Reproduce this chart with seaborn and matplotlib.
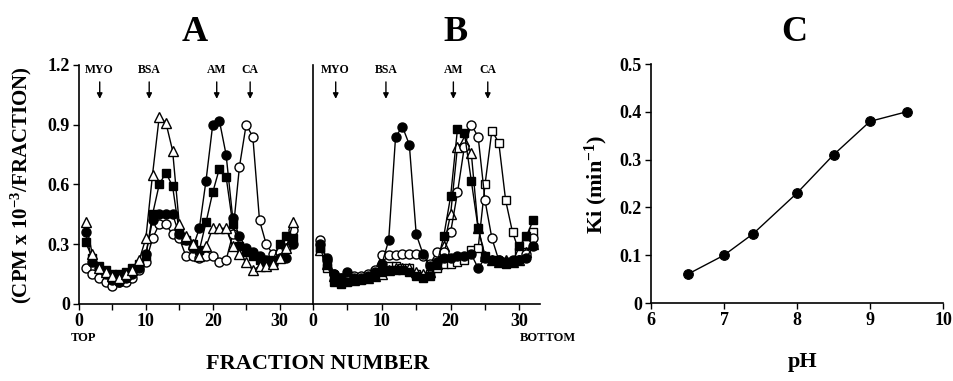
import numpy as np
import pandas as pd
import matplotlib
matplotlib.use("Agg")
import matplotlib.pyplot as plt
from matplotlib.ticker import FixedLocator, FixedFormatter
import seaborn as sns
import warnings

warnings.filterwarnings("ignore")

# ---- data ----
fractions = list(range(1, 33))

# panel A
a_open_tri = [0.41, 0.25, 0.18, 0.16, 0.14, 0.13, 0.15, 0.17, 0.22, 0.33, 0.65, 0.94,
              0.91, 0.77, 0.40, 0.34, 0.30, 0.24, 0.29, 0.38, 0.38, 0.38, 0.29, 0.25,
              0.21, 0.17, 0.19, 0.19, 0.20, 0.23, 0.28, 0.41]
a_filled_sq = [0.31, 0.23, 0.19, 0.17, 0.15, 0.15, 0.16, 0.18, 0.20, 0.24, 0.45, 0.60,
               0.66, 0.59, 0.36, 0.32, 0.30, 0.27, 0.41, 0.56, 0.68, 0.64, 0.40, 0.29,
               0.26, 0.24, 0.22, 0.20, 0.22, 0.30, 0.34, 0.33]
a_filled_circ = [0.36, 0.21, 0.18, 0.15, 0.12, 0.11, 0.13, 0.15, 0.18, 0.25, 0.42, 0.45,
                 0.45, 0.45, 0.35, 0.32, 0.28, 0.38, 0.62, 0.90, 0.92, 0.75, 0.43, 0.34,
                 0.28, 0.26, 0.24, 0.22, 0.20, 0.23, 0.23, 0.30]
a_open_circ = [0.18, 0.15, 0.13, 0.11, 0.09, 0.11, 0.11, 0.13, 0.17, 0.21, 0.33, 0.40,
               0.40, 0.35, 0.33, 0.24, 0.24, 0.23, 0.24, 0.24, 0.21, 0.22, 0.35, 0.69,
               0.90, 0.84, 0.42, 0.30, 0.25, 0.26, 0.28, 0.37]

# panel B
b_filled_circ = [0.30, 0.23, 0.15, 0.13, 0.16, 0.13, 0.13, 0.14, 0.16, 0.20, 0.32, 0.84,
                 0.89, 0.80, 0.35, 0.25, 0.19, 0.21, 0.23, 0.23, 0.24, 0.24, 0.25, 0.18,
                 0.23, 0.22, 0.22, 0.21, 0.22, 0.22, 0.23, 0.29]
b_filled_sq = [0.28, 0.20, 0.11, 0.10, 0.11, 0.12, 0.12, 0.13, 0.14, 0.16, 0.17, 0.17,
               0.17, 0.16, 0.14, 0.13, 0.14, 0.20, 0.34, 0.54, 0.88, 0.86, 0.62, 0.38,
               0.24, 0.22, 0.21, 0.20, 0.21, 0.29, 0.34, 0.42]
b_open_tri = [0.27, 0.20, 0.14, 0.12, 0.12, 0.12, 0.13, 0.13, 0.14, 0.15, 0.17, 0.18,
              0.18, 0.18, 0.16, 0.15, 0.16, 0.20, 0.29, 0.45, 0.79, 0.82, 0.76, 0.38,
              0.24, 0.22, 0.21, 0.22, 0.21, 0.22, 0.26, 0.30]
b_open_circ = [0.32, 0.22, 0.15, 0.13, 0.13, 0.14, 0.14, 0.15, 0.17, 0.245, 0.245, 0.245,
               0.25, 0.25, 0.25, 0.24, 0.20, 0.26, 0.26, 0.36, 0.56, 0.79, 0.90, 0.84,
               0.52, 0.33, 0.22, 0.21, 0.21, 0.22, 0.25, 0.33]
b_open_sq = [0.28, 0.18, 0.14, 0.12, 0.12, 0.13, 0.13, 0.14, 0.16, 0.18, 0.19, 0.19,
             0.18, 0.18, 0.15, 0.14, 0.15, 0.18, 0.20, 0.20, 0.21, 0.22, 0.27, 0.28,
             0.60, 0.87, 0.81, 0.52, 0.36, 0.26, 0.30, 0.36]

# marker proteins (fraction positions)
marker_names = ["MYO", "BSA", "AM", "CA"]
marker_pos_a = [3.1, 10.5, 20.6, 25.6]
marker_pos_b = [3.3, 10.6, 20.4, 25.4]

# panel C
ph = [6.5, 7.0, 7.4, 8.0, 8.5, 9.0, 9.5]
ki = [0.06, 0.10, 0.145, 0.23, 0.31, 0.38, 0.40]

# ---- style ----
sns.set_theme(style="ticks")
plt.rcParams["font.family"] = ["Liberation Serif", "DejaVu Serif"]
plt.rcParams["font.weight"] = "bold"
plt.rcParams["mathtext.fontset"] = "custom"
plt.rcParams["mathtext.rm"] = "Liberation Serif:bold"
plt.rcParams["mathtext.default"] = "rm"
for k in ["text.color", "axes.labelcolor", "xtick.color", "ytick.color", "axes.edgecolor"]:
    plt.rcParams[k] = "black"
plt.rcParams["axes.linewidth"] = 1.2
plt.rcParams["xtick.major.width"] = 1.0
plt.rcParams["ytick.major.width"] = 1.0
plt.rcParams["xtick.minor.width"] = 1.0
plt.rcParams["xtick.major.size"] = 4.5
plt.rcParams["xtick.minor.size"] = 4.5
plt.rcParams["ytick.major.size"] = 4.5
plt.rcParams["xtick.direction"] = "out"
plt.rcParams["ytick.direction"] = "out"

fig = plt.figure(figsize=(9.54, 3.81), dpi=100)
axA = fig.add_axes([0.0828, 0.2021, 0.2453, 0.6273])
axB = fig.add_axes([0.3281, 0.2021, 0.2380, 0.6273])
axC = fig.add_axes([0.6824, 0.2047, 0.3061, 0.6273])

STYLES = {
    "open_tri": dict(marker="^", mfc="white", ms=7.5),
    "filled_sq": dict(marker="s", mfc="black", ms=6),
    "filled_circ": dict(marker="o", mfc="black", ms=6.5),
    "open_circ": dict(marker="o", mfc="white", ms=6.5),
    "open_sq": dict(marker="s", mfc="white", ms=6.3),
}


def draw(ax, y, key, z):
    sns.lineplot(x=fractions, y=y, ax=ax, color="black", lw=1.0, mec="black",
                 mew=1.0, errorbar=None, zorder=z, clip_on=False, **STYLES[key])


draw(axA, a_open_circ, "open_circ", 2)
draw(axA, a_filled_circ, "filled_circ", 3)
draw(axA, a_filled_sq, "filled_sq", 4)
draw(axA, a_open_tri, "open_tri", 5)

draw(axB, b_open_sq, "open_sq", 2)
draw(axB, b_open_tri, "open_tri", 3)
draw(axB, b_open_circ, "open_circ", 4)
draw(axB, b_filled_sq, "filled_sq", 5)
draw(axB, b_filled_circ, "filled_circ", 6)

for ax, xmax, pos in [(axA, 35, marker_pos_a), (axB, 33, marker_pos_b)]:
    ax.set_xlim(0, xmax)
    ax.set_ylim(0, 1.2)
    ax.xaxis.set_major_locator(FixedLocator([0, 10, 20, 30]))
    ax.xaxis.set_minor_locator(FixedLocator([5, 15, 25]))
    ax.tick_params(axis="x", labelsize=13, pad=2)
    ax.set_xlabel("")
    ax.set_ylabel("")
    for s in ["top", "right"]:
        ax.spines[s].set_visible(False)
    for name, xp in zip(marker_names, pos):
        ax.text(xp, 1.175, name, ha="center", va="center", fontsize=8.5,
                fontweight="bold")
        ax.annotate("", xy=(xp, 1.03), xytext=(xp, 1.115),
                    arrowprops=dict(arrowstyle="-|>", color="black", lw=1.0,
                                    mutation_scale=8, shrinkA=0, shrinkB=0))

axA.yaxis.set_major_locator(FixedLocator([0, 0.3, 0.6, 0.9, 1.2]))
axA.yaxis.set_major_formatter(FixedFormatter(["0", "0.3", "0.6", "0.9", "1.2"]))
axA.tick_params(axis="y", labelsize=13, pad=2)
axB.tick_params(axis="y", left=False, labelleft=False)

# panel C
sns.lineplot(x=ph, y=ki, ax=axC, color="black", lw=1.0, marker="o", ms=7,
             mfc="black", mec="black", errorbar=None)
axC.set_xlim(6, 10)
axC.set_ylim(0, 0.5)
axC.xaxis.set_major_locator(FixedLocator([6, 7, 8, 9, 10]))
axC.yaxis.set_major_locator(FixedLocator([0, 0.1, 0.2, 0.3, 0.4, 0.5]))
axC.yaxis.set_major_formatter(FixedFormatter(["0", "0.1", "0.2", "0.3", "0.4", "0.5"]))
axC.tick_params(labelsize=13, pad=2)
for s in ["top", "right"]:
    axC.spines[s].set_visible(False)

# labels
fig.text(0.204, 0.915, "A", ha="center", va="center", fontsize=26, fontweight="bold")
fig.text(0.477, 0.915, "B", ha="center", va="center", fontsize=26, fontweight="bold")
fig.text(0.833, 0.915, "C", ha="center", va="center", fontsize=26, fontweight="bold")
fig.text(0.022, 0.514, r"(CPM x 10$^{-3}$/FRACTION)", rotation=90, ha="center",
         va="center", fontsize=15, fontweight="bold")
fig.text(0.088, 0.113, "TOP", ha="center", va="center", fontsize=9, fontweight="bold")
fig.text(0.574, 0.113, "BOTTOM", ha="center", va="center", fontsize=9, fontweight="bold")
fig.text(0.333, 0.045, "FRACTION NUMBER", ha="center", va="center", fontsize=16,
         fontweight="bold")
fig.text(0.841, 0.05, "pH", ha="center", va="center", fontsize=16, fontweight="bold")
fig.text(0.625, 0.517, r"Ki (min$^{-1}$)", rotation=90, ha="center", va="center",
         fontsize=16, fontweight="bold")

fig.savefig("out.png", dpi=100)
